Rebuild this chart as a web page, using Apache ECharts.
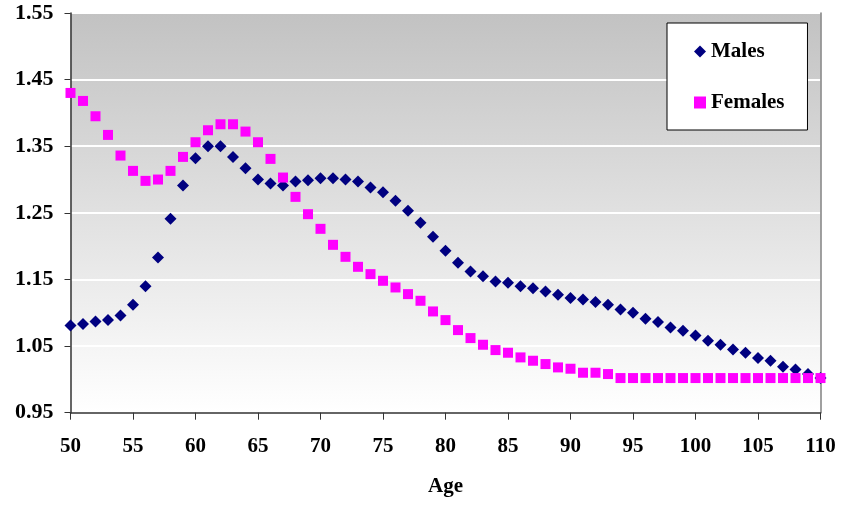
<!DOCTYPE html>
<html>
<head>
<meta charset="utf-8">
<script src="https://cdn.jsdelivr.net/npm/echarts@6/dist/echarts.min.js"></script>
<style>html,body{margin:0;padding:0;background:#fff}#c{width:844px;height:508px}</style>
</head>
<body>
<div id="c"></div>
<script>
const ages = [50,51,52,53,54,55,56,57,58,59,60,61,62,63,64,65,66,67,68,69,70,71,72,73,74,75,76,77,78,79,80,81,82,83,84,85,86,87,88,89,90,91,92,93,94,95,96,97,98,99,100,101,102,103,104,105,106,107,108,109,110];
const males = [1.081,1.083,1.087,1.089,1.096,1.112,1.140,1.183,1.241,1.291,1.332,1.350,1.350,1.334,1.317,1.300,1.294,1.291,1.297,1.299,1.302,1.302,1.300,1.297,1.288,1.281,1.268,1.253,1.235,1.214,1.193,1.175,1.162,1.155,1.147,1.145,1.140,1.137,1.132,1.127,1.122,1.120,1.116,1.112,1.105,1.100,1.091,1.086,1.078,1.073,1.066,1.058,1.052,1.045,1.040,1.032,1.028,1.019,1.015,1.008,1.002];
const females = [1.430,1.418,1.395,1.367,1.336,1.313,1.298,1.300,1.313,1.334,1.356,1.374,1.383,1.383,1.372,1.356,1.331,1.303,1.274,1.248,1.226,1.202,1.184,1.169,1.158,1.148,1.138,1.128,1.118,1.102,1.089,1.074,1.062,1.052,1.044,1.040,1.033,1.028,1.023,1.018,1.016,1.010,1.010,1.008,1.002,1.002,1.002,1.002,1.002,1.002,1.002,1.002,1.002,1.002,1.002,1.002,1.002,1.002,1.002,1.002,1.002];
const seriesNames = ['Males','Females'];
const xTitle = 'Age';

const font = 'Liberation Serif';
const chart = echarts.init(document.getElementById('c'));
chart.setOption({
  animation: false,
  grid: {
    left: 70.5, right: 23.5, top: 13, bottom: 95.3,
    show: true, borderWidth: 0,
    backgroundColor: new echarts.graphic.LinearGradient(0,0,0,1,[{offset:0,color:'#c2c2c2'},{offset:1,color:'#ffffff'}])
  },
  legend: {
    left: 667, top: 23,
    orient: 'vertical',
    backgroundColor: '#ffffff', borderColor: '#000000', borderWidth: 1,
    padding: [18, 23, 17, 27],
    itemGap: 30, itemWidth: 12, itemHeight: 12,
    textStyle: {fontFamily: font, fontWeight: 'bold', fontSize: 21, color: '#000'},
    data: [{name:'Males', icon:'diamond'},{name:'Females', icon:'rect'}]
  },
  xAxis: {
    type: 'value', min: 50, max: 110, interval: 5,
    name: xTitle, nameLocation: 'middle', nameGap: 63,
    nameTextStyle: {fontFamily: font, fontWeight: 'bold', fontSize: 21, color: '#000'},
    axisLine: {lineStyle: {color: '#333', width: 1.5}},
    axisTick: {show: true, inside: false, length: 7, lineStyle: {color: '#333'}},
    axisLabel: {margin: 23, fontFamily: font, fontWeight: 'bold', fontSize: 21, color: '#000'},
    splitLine: {show: false}
  },
  yAxis: [{
    type: 'value', min: 0.95, max: 1.55, interval: 0.1,
    axisLine: {show: true, lineStyle: {color: '#333', width: 1.5}},
    axisTick: {show: true, inside: false, length: 6, lineStyle: {color: '#333'}},
    axisLabel: {margin: 17, fontFamily: font, fontWeight: 'bold', fontSize: 22, color: '#000',
      formatter: v => v.toFixed(2)},
    splitLine: {show: true, lineStyle: {color: '#ffffff', width: 2}}
  },{
    type: 'value', min: 0.95, max: 1.55, interval: 0.1, position: 'right',
    axisLine: {show: true, lineStyle: {color: '#808080', width: 1.5}},
    axisTick: {show: false}, axisLabel: {show: false}, splitLine: {show: false}
  }],
  series: [
    {name: seriesNames[0], type: 'scatter', symbol: 'diamond', symbolSize: 12,
     itemStyle: {color: '#000080', opacity: 1}, data: ages.map((a,i)=>[a, males[i]])},
    {name: seriesNames[1], type: 'scatter', symbol: 'rect', symbolSize: 10,
     itemStyle: {color: '#ff00ff', opacity: 1}, data: ages.map((a,i)=>[a, females[i]])}
  ]
});
</script>
</body>
</html>
